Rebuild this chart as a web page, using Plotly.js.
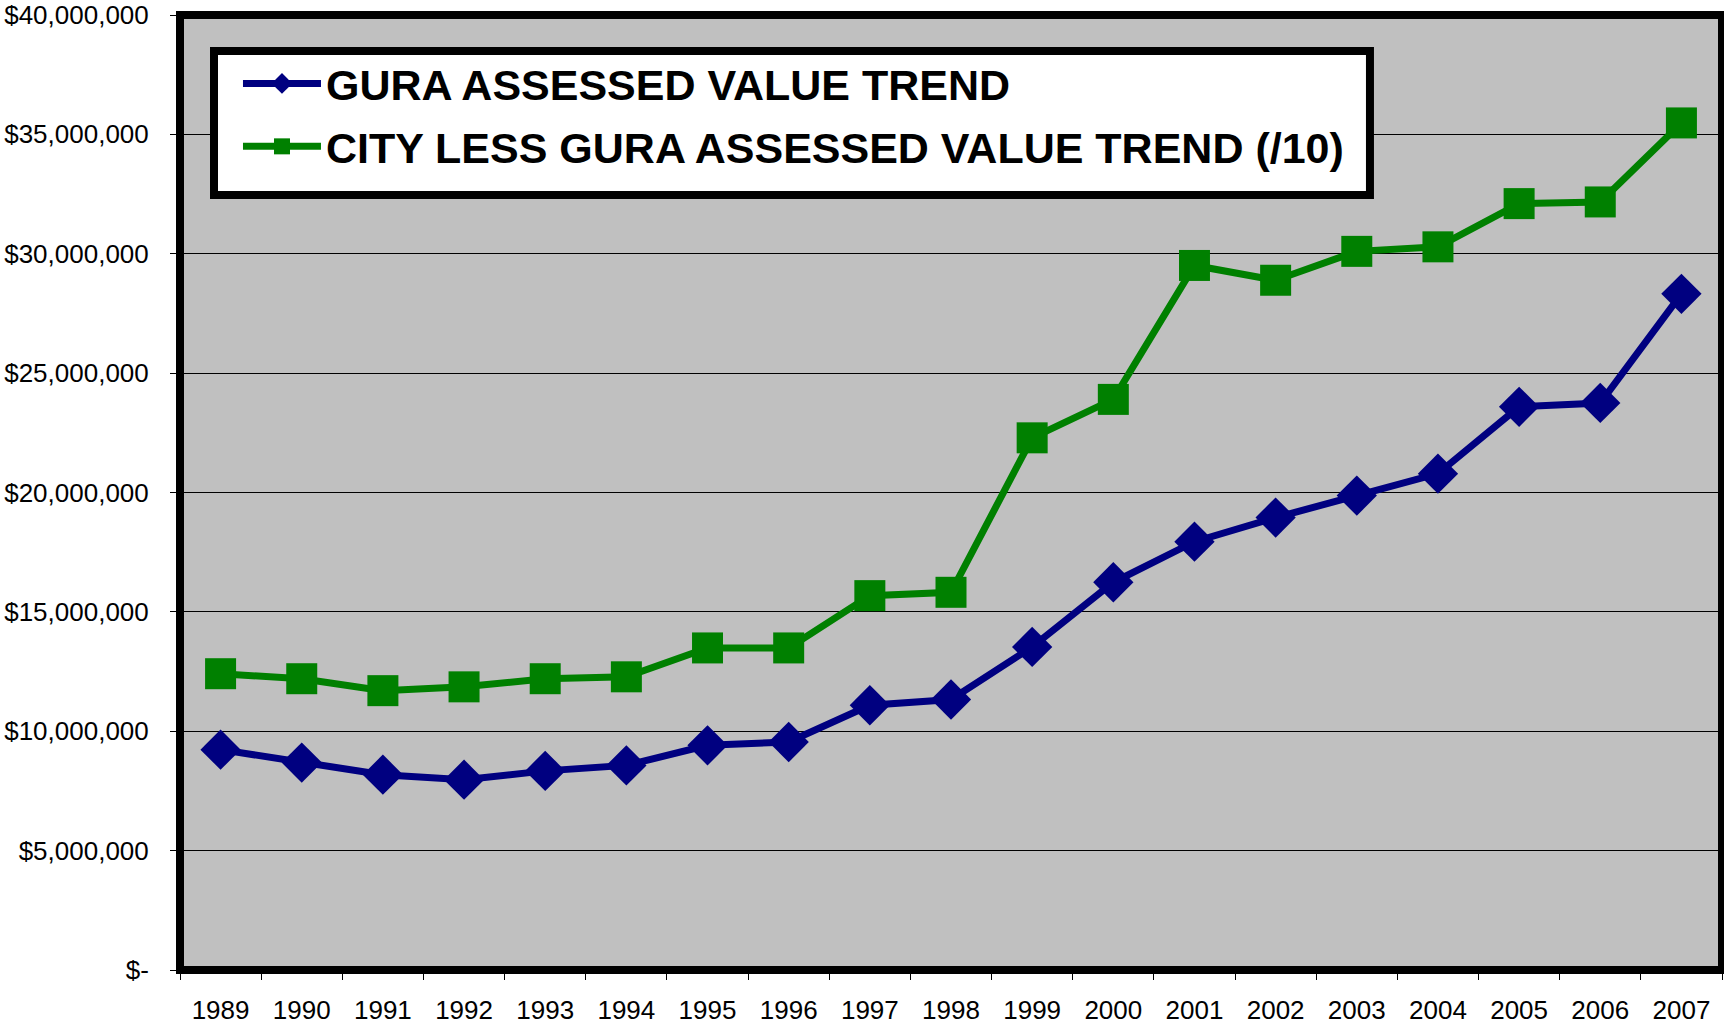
<!DOCTYPE html>
<html>
<head>
<meta charset="utf-8">
<script src="https://cdn.plot.ly/plotly-3.0.1.min.js"></script>
<style>
  html, body { margin: 0; padding: 0; background: #ffffff; }
  #chart { width: 1724px; height: 1024px; }
</style>
</head>
<body>
<div id="chart"></div>
<script>
const years = ['1989','1990','1991','1992','1993','1994','1995','1996','1997','1998',
               '1999','2000','2001','2002','2003','2004','2005','2006','2007'];

const guraValues = [9230000, 8690000, 8180000, 7970000, 8340000, 8570000, 9410000, 9550000,
                    11090000, 11330000, 13530000, 16240000, 17940000, 18950000, 19870000,
                    20790000, 23590000, 23750000, 28320000];

const cityLessGuraValues = [12410000, 12200000, 11700000, 11860000, 12200000, 12280000,
                            13490000, 13490000, 15680000, 15820000, 22290000, 23900000,
                            29510000, 28890000, 30100000, 30290000, 32100000, 32170000, 35480000];

const seriesNames = ['GURA ASSESSED VALUE TREND', 'CITY LESS GURA ASSESSED VALUE TREND (/10)'];

const yTickValues = [0, 5000000, 10000000, 15000000, 20000000, 25000000, 30000000, 35000000, 40000000];
const yTickLabels = ['$-', '$5,000,000', '$10,000,000', '$15,000,000', '$20,000,000',
                     '$25,000,000', '$30,000,000', '$35,000,000', '$40,000,000'];

const FONT = 'Liberation Sans, Arial, sans-serif';

const traces = [
  {
    x: years, y: guraValues, name: seriesNames[0],
    type: 'scatter', mode: 'lines+markers', legendgroup: 'g1',
    line: { color: '#000080', width: 7 },
    marker: { symbol: 'diamond', size: 31, color: '#000080', line: { width: 0 } }
  },
  {
    x: years, y: cityLessGuraValues, name: seriesNames[1],
    type: 'scatter', mode: 'lines+markers', legendgroup: 'g2',
    line: { color: '#008000', width: 7 },
    marker: { symbol: 'square', size: 31, color: '#008000', line: { width: 0 } }
  }
];

const layout = {
  width: 1724, height: 1024,
  margin: { l: 180, r: 2, t: 15, b: 54, pad: 0 },
  paper_bgcolor: '#ffffff',
  plot_bgcolor: '#C0C0C0',
  font: { family: FONT, color: '#000000', size: 26 },
  showlegend: true,
  legend: {
    x: 0.0376, y: 0.9644, xanchor: 'left', yanchor: 'top',
    bgcolor: 'rgba(0,0,0,0)', borderwidth: 0,
    font: { family: FONT, size: 43, color: '#000000', weight: 'bold' },
    itemwidth: 78,
    traceorder: 'grouped', tracegroupgap: 4
  },
  xaxis: {
    type: 'category', range: [-0.5, 18.5],
    tickson: 'boundaries', ticks: 'outside', ticklen: 9, tickwidth: 1, tickcolor: '#000000',
    showgrid: false, zeroline: false, showline: false,
    ticklabelstandoff: 22,
    tickfont: { family: FONT, size: 26, color: '#000000' },
    fixedrange: true
  },
  yaxis: {
    range: [-1, 40000001],
    tickmode: 'array', tickvals: yTickValues, ticktext: yTickLabels,
    ticks: 'outside', ticklen: 9, tickwidth: 1, tickcolor: '#000000',
    showgrid: true, gridcolor: '#000000', gridwidth: 1,
    zeroline: false, showline: false,
    ticklabeloverflow: 'allow',
    ticklabelstandoff: 16,
    tickfont: { family: FONT, size: 26, color: '#000000' },
    fixedrange: true
  },
  shapes: [
    { type: 'rect', xref: 'paper', yref: 'paper', x0: 0, x1: 1, y0: 0, y1: 1,
      line: { color: '#000000', width: 8 }, fillcolor: 'rgba(0,0,0,0)', layer: 'above' },
    { type: 'rect', xref: 'paper', yref: 'paper', x0: 0.02205, x1: 0.7717, y0: 0.8115, y1: 0.9623,
      line: { color: '#000000', width: 8 }, fillcolor: '#ffffff', layer: 'above' }
  ]
};

Plotly.newPlot('chart', traces, layout, { displayModeBar: false, staticPlot: true });
</script>
</body>
</html>
